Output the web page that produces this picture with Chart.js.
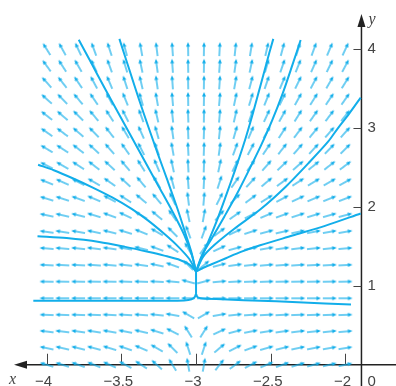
<!DOCTYPE html>
<html>
<head>
<meta charset="utf-8">
<script src="https://cdn.jsdelivr.net/npm/chart.js@4.4.1/dist/chart.umd.min.js"></script>
<style>
html, body { margin: 0; padding: 0; background: #fff; }
#wrap { width: 396px; height: 386px; }
</style>
</head>
<body>
<div id="wrap"><canvas id="field" width="396" height="386"></canvas></div>
<script>
// grid of the direction field (20 x 20)
const gridX = [-4.000, -3.895, -3.789, -3.684, -3.579, -3.474, -3.368, -3.263, -3.158, -3.053,
	-2.947, -2.842, -2.737, -2.632, -2.526, -2.421, -2.316, -2.211, -2.105, -2.000];
const gridY = [0.000, 0.211, 0.421, 0.632, 0.842, 1.053, 1.263, 1.474, 1.684, 1.895,
	2.105, 2.316, 2.526, 2.737, 2.947, 3.158, 3.368, 3.579, 3.789, 4.000];

// arrow directions in degrees (0 = right, 90 = up, 180 = left), top row first
const fieldAngles = [
	[122, 119, 115, 110, 108, 105, 100, 97, 94, 91, 89, 87, 84, 81, 77, 75, 72, 70, 67, 65],
	[126, 123, 120, 115, 110, 107, 102, 98, 94, 91, 89, 86, 82, 78, 74, 71, 68, 66, 64, 62],
	[132, 128, 124, 118, 113, 108, 103, 98, 94, 91, 89, 86, 80, 75, 71, 67, 64, 62, 60, 58],
	[138, 134, 130, 124, 118, 112, 106, 100, 95, 91, 89, 85, 78, 73, 68, 64, 61, 58, 56, 55],
	[142, 139, 135, 130, 123, 117, 110, 103, 96, 92, 89, 85, 77, 71, 65, 61, 58, 55, 53, 52],
	[145, 143, 139, 134, 128, 121, 114, 106, 98, 92, 88, 84, 74, 67, 61, 57, 53, 51, 49, 48],
	[149, 147, 142, 137, 131, 125, 117, 109, 100, 93, 88, 82, 70, 62, 56, 52, 49, 47, 46, 45],
	[153, 150, 147, 142, 137, 130, 122, 113, 102, 93, 88, 78, 64, 55, 49, 44, 41, 39, 38, 37],
	[158, 156, 153, 150, 145, 138, 130, 120, 105, 94, 87, 72, 55, 47, 40, 36, 33, 31, 30, 29],
	[163, 162, 160, 157, 152, 147, 140, 130, 115, 97, 85, 63, 45, 37, 32, 28, 25, 23, 22, 21],
	[168, 167, 166, 163, 160, 155, 150, 140, 125, 102, 80, 50, 35, 27, 23, 20, 18, 17, 16, 15],
	[172, 171, 170, 168, 166, 163, 158, 150, 135, 110, 70, 37, 25, 18, 15, 13, 12, 11, 10, 10],
	[175, 175, 174, 173, 172, 170, 166, 160, 147, 120, 55, 25, 15, 12, 10, 8, 7, 6, 6, 5],
	[177, 177, 177, 176, 175, 174, 172, 168, 160, 135, 40, 15, 8, 6, 5, 4, 4, 3, 3, 3],
	[179, 179, 179, 179, 179, 178, 178, 177, 175, 165, 15, 5, 3, 2, 2, 1, 1, 1, 1, 1],
	[180, 180, 180, 180, 180, 180, 180, 180, 180, 180, 0, 0, 0, 0, 0, 0, 0, 0, 0, 0],
	[178, 178, 178, 178, 177, 177, 176, 174, 170, 150, 30, 10, 6, 4, 3, 3, 2, 2, 2, 2],
	[173, 173, 172, 171, 170, 169, 167, 163, 153, 122, 58, 25, 15, 11, 9, 8, 7, 6, 6, 5],
	[168, 167, 166, 165, 163, 161, 157, 150, 135, 108, 72, 40, 27, 20, 16, 14, 12, 11, 10, 9],
	[163, 162, 160, 158, 156, 152, 147, 138, 122, 100, 80, 52, 37, 28, 23, 20, 17, 15, 13, 12]
];

// solution curves [x, y]
const curveL1 = [[-3.785, 4.12], [-3.70, 3.82], [-3.61, 3.50], [-3.52, 3.19], [-3.43, 2.88], [-3.34, 2.57],
	[-3.25, 2.26], [-3.16, 1.95], [-3.08, 1.65], [-3.03, 1.40], [-3.0, 1.18]];
const curveL2 = [[-3.513, 4.13], [-3.45, 3.76], [-3.385, 3.38], [-3.32, 3.02], [-3.255, 2.67], [-3.19, 2.33],
	[-3.125, 1.98], [-3.07, 1.66], [-3.03, 1.42], [-3.0, 1.18]];
const curveL3 = [[-4.057, 2.535], [-3.952, 2.465], [-3.822, 2.36], [-3.691, 2.245], [-3.561, 2.12], [-3.431, 1.975],
	[-3.322, 1.83], [-3.213, 1.66], [-3.126, 1.51], [-3.045, 1.34], [-3.0, 1.18]];
const curveL4 = [[-4.061, 1.63], [-3.866, 1.605], [-3.648, 1.556], [-3.474, 1.494], [-3.322, 1.432], [-3.213, 1.383],
	[-3.104, 1.325], [-3.039, 1.263], [-3.0, 1.18]];
const curveR1 = [[-2.483, 4.13], [-2.51, 3.95], [-2.57, 3.53], [-2.625, 3.15], [-2.68, 2.80], [-2.74, 2.46],
	[-2.80, 2.14], [-2.86, 1.83], [-2.92, 1.55], [-2.965, 1.35], [-3.0, 1.18]];
const curveR2 = [[-2.30, 4.115], [-2.355, 3.80], [-2.42, 3.44], [-2.49, 3.10], [-2.565, 2.78], [-2.645, 2.47],
	[-2.725, 2.17], [-2.81, 1.88], [-2.895, 1.60], [-2.96, 1.39], [-3.0, 1.18]];
const curveR3 = [[-1.898, 3.386], [-1.98, 3.17], [-2.05, 3.00], [-2.115, 2.83], [-2.245, 2.56], [-2.398, 2.26],
	[-2.571, 1.967], [-2.746, 1.72], [-2.876, 1.52], [-2.952, 1.37], [-3.0, 1.18]];
const curveR4 = [[-1.898, 1.917], [-2.137, 1.76], [-2.354, 1.637], [-2.571, 1.514], [-2.70, 1.43], [-2.80, 1.35],
	[-2.90, 1.27], [-2.96, 1.22], [-3.0, 1.18]];
const stem = [[-3.0, 1.22], [-3.0, 0.9]];
const curveH = [[-4.089, 0.81], [-3.6, 0.81], [-3.2, 0.811], [-3.08, 0.815], [-3.03, 0.83], [-3.008, 0.86], [-3.0, 0.9],
	[-2.992, 0.86], [-2.97, 0.843], [-2.94, 0.837], [-2.79, 0.827], [-2.57, 0.81], [-2.354, 0.796], [-2.137, 0.775], [-1.963, 0.763]];

// axis labels
const xTicks = [-4, -3.5, -3, -2.5, -2];
const xTickLabels = ['\u22124', '\u22123.5', '\u22123', '\u22122.5', '\u22122'];
const yTicks = [1, 2, 3, 4];
const yTickLabels = ['1', '2', '3', '4'];

const blue = '#12aeea';
const yAxisAt = -1.893; // broken axis: the y axis stands where x = 0 is labelled

function makeArrow() {
	const c = document.createElement('canvas');
	c.width = 18;
	c.height = 18;
	const g = c.getContext('2d');
	g.strokeStyle = blue;
	g.fillStyle = blue;
	g.lineWidth = 1.2;
	g.beginPath();
	g.moveTo(2, 9);
	g.lineTo(13, 9);
	g.stroke();
	g.beginPath();
	g.moveTo(16, 9);
	g.lineTo(11.5, 7.1);
	g.lineTo(11.5, 10.9);
	g.closePath();
	g.fill();
	return c;
}

const fieldPoints = [];
fieldAngles.forEach((row, r) => {
	row.forEach((a, c) => {
		fieldPoints.push({ x: gridX[c], y: gridY[gridY.length - 1 - r], a });
	});
});

const toXY = (arr) => arr.map(([x, y]) => ({ x, y }));
const curve = (arr, tension) => ({
	data: toXY(arr),
	showLine: true,
	borderColor: blue,
	borderWidth: 2,
	pointRadius: 0,
	tension: tension
});

const axesPlugin = {
	id: 'axes',
	beforeDatasetsDraw(chart) {
		const { ctx, scales: { x, y } } = chart;
		const ax = x.getPixelForValue(yAxisAt);
		const ay = y.getPixelForValue(0);
		ctx.save();
		ctx.strokeStyle = '#222';
		ctx.fillStyle = '#222';
		ctx.lineWidth = 1.5;
		// x axis with arrow to the left
		ctx.beginPath();
		ctx.moveTo(20, ay);
		ctx.lineTo(chart.width, ay);
		ctx.stroke();
		ctx.beginPath();
		ctx.moveTo(14, ay);
		ctx.lineTo(27, ay - 4);
		ctx.lineTo(27, ay + 4);
		ctx.closePath();
		ctx.fill();
		// y axis with arrow upward
		ctx.beginPath();
		ctx.moveTo(ax, chart.height);
		ctx.lineTo(ax, 22);
		ctx.stroke();
		ctx.beginPath();
		ctx.moveTo(ax, 14);
		ctx.lineTo(ax - 4, 27);
		ctx.lineTo(ax + 4, 27);
		ctx.closePath();
		ctx.fill();
		// ticks
		ctx.lineWidth = 1;
		ctx.strokeStyle = '#444';
		xTicks.forEach((v) => {
			const px = Math.round(x.getPixelForValue(v)) + 0.5;
			ctx.beginPath();
			ctx.moveTo(px, ay);
			ctx.lineTo(px, ay - 11);
			ctx.stroke();
		});
		yTicks.forEach((v) => {
			const py = Math.round(y.getPixelForValue(v)) + 0.5;
			ctx.beginPath();
			ctx.moveTo(ax, py);
			ctx.lineTo(ax - 8, py);
			ctx.stroke();
		});
		// labels
		ctx.fillStyle = '#444';
		ctx.font = '15px "Liberation Sans", Arial, sans-serif';
		ctx.textBaseline = 'top';
		ctx.textAlign = 'center';
		xTicks.forEach((v, i) => {
			ctx.fillText(xTickLabels[i], x.getPixelForValue(v) - 3, ay + 10);
		});
		ctx.textAlign = 'left';
		ctx.fillText('0', ax + 6, ay + 10);
		ctx.textBaseline = 'middle';
		yTicks.forEach((v, i) => {
			ctx.fillText(yTickLabels[i], ax + 6, y.getPixelForValue(v));
		});
		ctx.font = 'italic 16px "Liberation Serif", "DejaVu Serif", serif';
		ctx.textBaseline = 'alphabetic';
		ctx.fillText('x', 9, ay + 19);
		ctx.fillText('y', ax + 7, 24);
		ctx.restore();
	}
};

new Chart(document.getElementById('field'), {
	type: 'scatter',
	data: {
		datasets: [
			curve(curveL1, 0.3),
			curve(curveL2, 0.3),
			curve(curveL3, 0.3),
			curve(curveL4, 0.3),
			curve(curveR1, 0.3),
			curve(curveR2, 0.3),
			curve(curveR3, 0.3),
			curve(curveR4, 0.3),
			curve(stem, 0),
			curve(curveH, 0.2),
			{
				data: fieldPoints,
				pointStyle: makeArrow(),
				pointRadius: 4,
				rotation: (c) => (c.raw ? -c.raw.a : 0)
			}
		]
	},
	options: {
		responsive: false,
		animation: false,
		devicePixelRatio: 1,
		events: [],
		layout: { padding: 0 },
		plugins: { legend: { display: false }, tooltip: { enabled: false } },
		scales: {
			x: { type: 'linear', min: -4.2785, max: -1.6953, display: false },
			y: { type: 'linear', min: -0.2061, max: 4.5593, display: false }
		}
	},
	plugins: [axesPlugin]
});
</script>
</body>
</html>
